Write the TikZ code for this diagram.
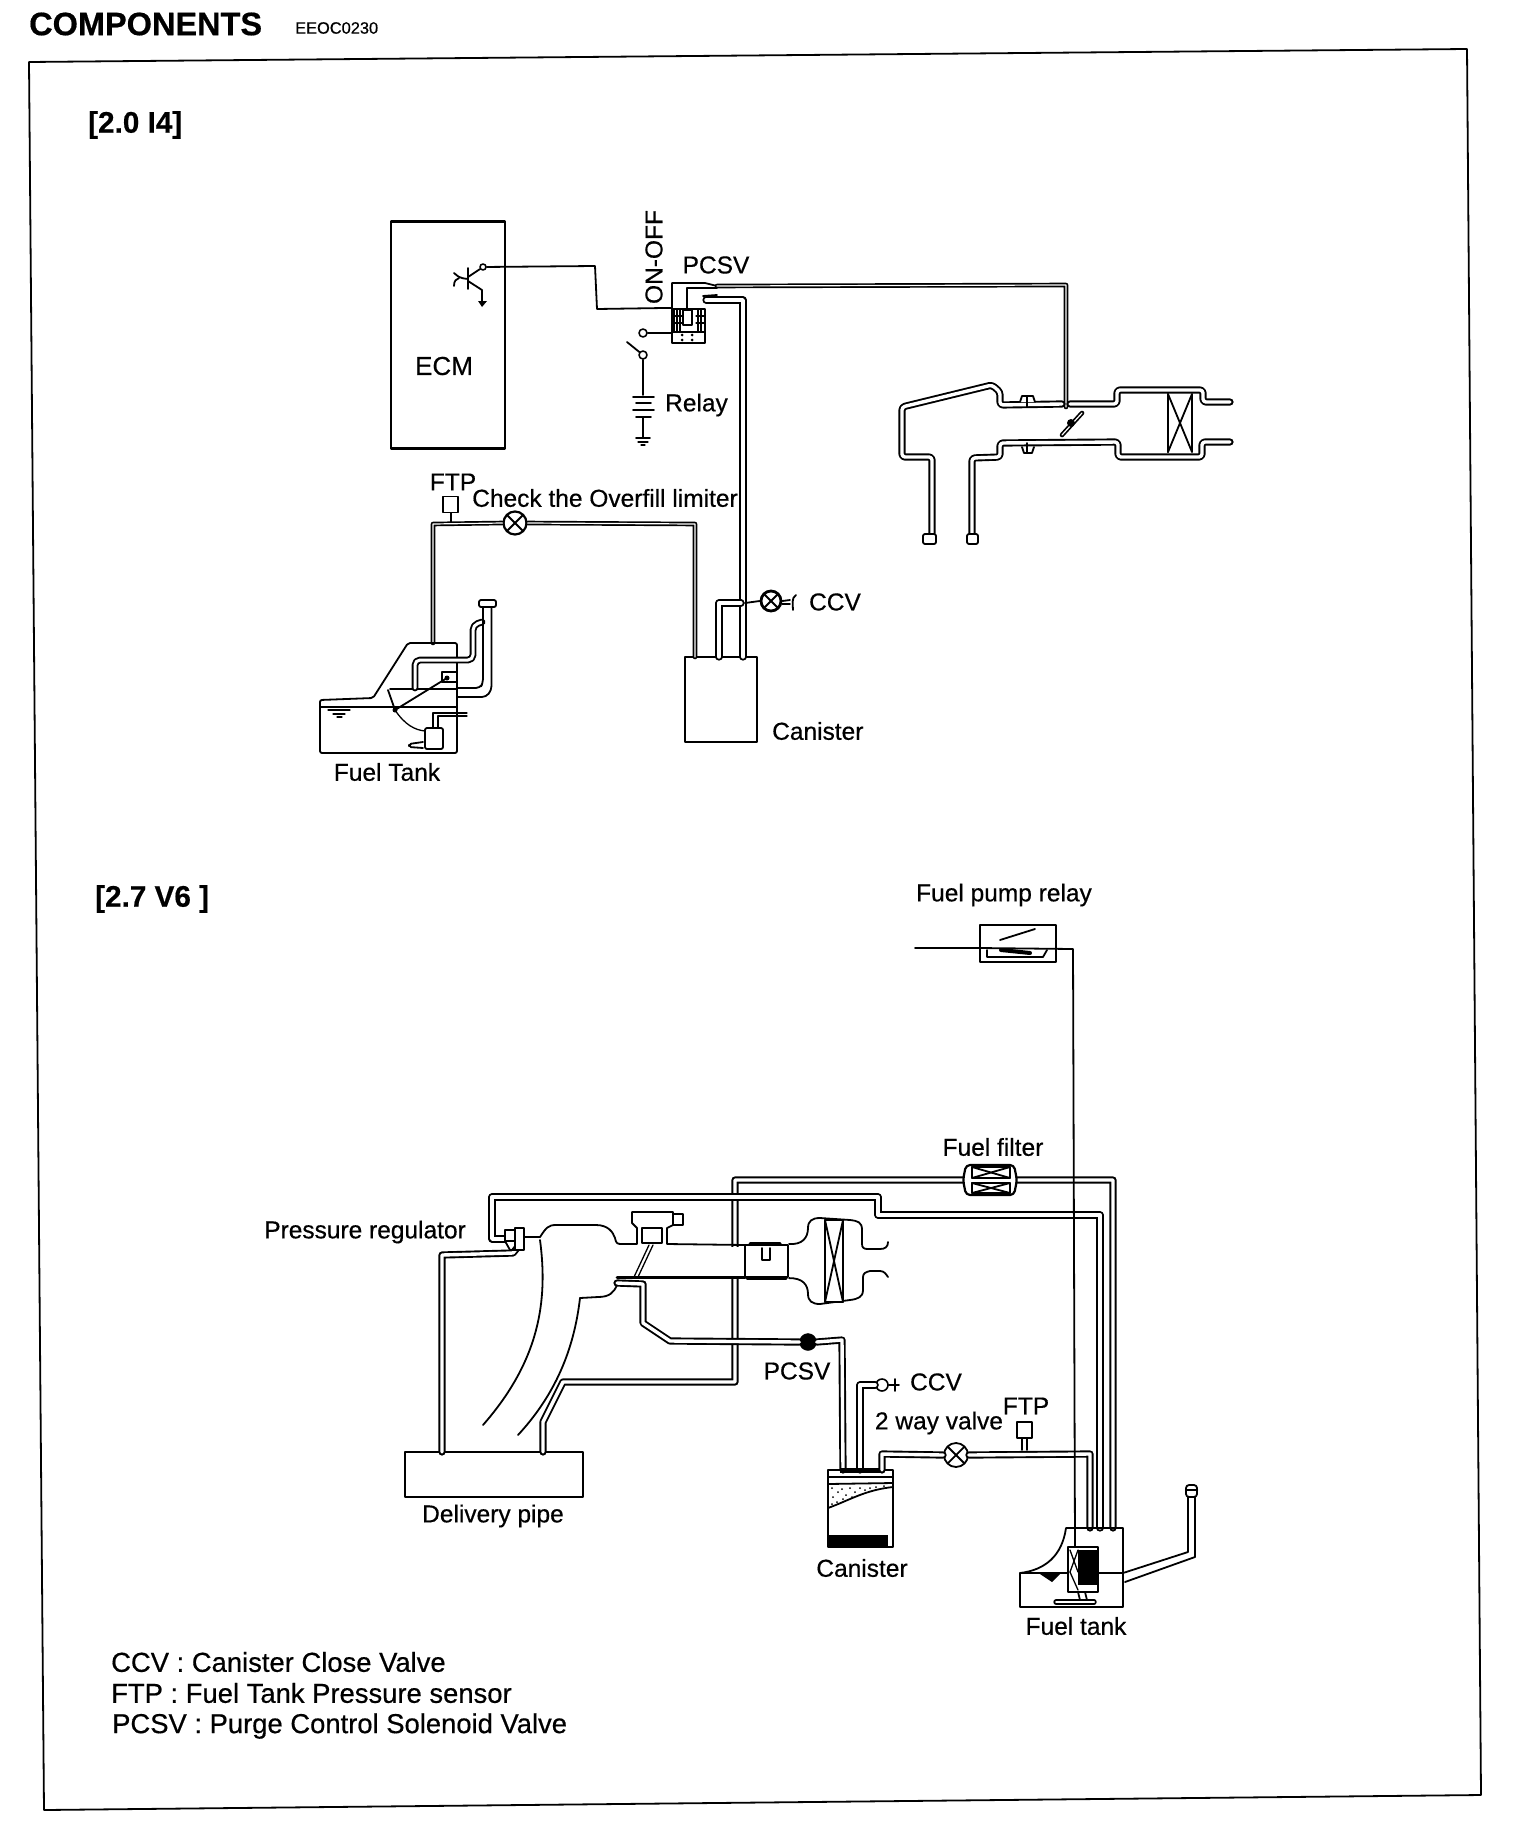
\documentclass[tikz,border=0pt]{standalone}
\usepackage{fontspec}
\setmainfont[RawFeature={embolden=0.5}]{Liberation Sans}
\usetikzlibrary{arrows.meta,calc,positioning}

\begin{document}
\begin{tikzpicture}[
  x=1pt, y=-1pt,
  line cap=round,
  line join=round,
  lab/.style={inner sep=0pt, font=\fontsize{24.5}{26}\selectfont},
  legendlab/.style={inner sep=0pt, anchor=west, font=\fontsize{27.4}{29}\selectfont},
  headlab/.style={inner sep=0pt, font=\bfseries\fontsize{29.7}{31}\selectfont},
  wire/.style={draw=black, line width=1.8pt},
  hairwire/.style={draw=black, line width=1.3pt},
  pipe/.style={draw=black, line width=1.9pt, double=white, double distance=3.4pt},
  slimpipe/.style={draw=black, line width=1.7pt, double=white, double distance=1.2pt},
  block/.style={draw=black, line width=2.2pt, fill=white, inner sep=0pt},
  port/.style={circle, draw=black, fill=white, inner sep=0pt, minimum size=8pt, line width=1.6pt},
  valve/.style={circle, draw=black, fill=white, inner sep=0pt, minimum size=23pt, line width=2.2pt,
    path picture={
      \draw[line width=1.8pt] (path picture bounding box.north west) -- (path picture bounding box.south east);
      \draw[line width=1.8pt] (path picture bounding box.north east) -- (path picture bounding box.south west);
    }},
  sensor/.style={draw=black, line width=1.8pt, fill=white, inner sep=0pt, minimum width=15pt, minimum height=16pt}
]
\useasboundingbox (0,0) rectangle (1536,1836);

\def\ftpY{524}
\def\tankTop{643}
\def\tankLow{1528}

% Sheet heading and frame.
\node[inner sep=0pt, font=\bfseries\fontsize{32.5}{34}\selectfont, anchor=west] (titleLab) at (29,24) {COMPONENTS};
\node[inner sep=0pt, font=\fontsize{16.4}{18}\selectfont, anchor=west] (codeLab) at (295,28) {EEOC0230};
\draw[wire] (29,62) -- (1467,49) -- (1481,1795) -- (44,1810) -- cycle;
\node[headlab, anchor=west] (engineA) at (88,125) {[2.0 I4]};
\node[headlab, anchor=west] (engineB) at (95,899) {[2.7 V6 ]};

% ECM and its driver transistor.
\node[block, minimum width=114pt, minimum height=227pt] (ecmBox) at (448,335) {};
\node[lab, font=\fontsize{26}{28}\selectfont] (ecmLab) at (444,366) {ECM};
\node[port, minimum size=6pt] (ecmPort) at (483,267) {};
\draw[wire] (468,268) -- (468,289);
\draw[wire] (468,277) -- (ecmPort);
\draw[wire] (468,281) -- (482,290) -- (482,303);
\draw[wire] (454,273) .. controls (458,276) and (458,278) .. (468,279);
\draw[wire] (454,286) .. controls (454,281) and (456,279) .. (459,278);
\fill (478,301) -- (487,301) -- (482,307) -- cycle;

% PCSV of the 2.0 engine.
\node[block, minimum width=33pt, minimum height=34pt] (pcsvA) at (688.5,326) {};
\foreach \hx in {674,677,680,698,701}{
  \draw[line width=2pt] (\hx,310) -- (\hx,332);
}
\draw[line width=1.2pt] (672,316) -- (682,316) (672,323) -- (682,323) (696,316) -- (704,316) (696,323) -- (704,323);
\draw[wire, fill=white] (683,310) rectangle (692,325);
\draw[hairwire] (672,332) -- (704,332);
\foreach \px/\py in {682/335,692/335,682/340,692/340}{
  \fill (\px,\py) circle (1.5pt);
}
\draw[wire] (672,310) -- (672,283) -- (705,283) -- (717,286);
\draw[wire] (687,310) -- (687,288) -- (717,288);
\draw[wire] (703,296) -- (717,295);
\node[lab] (pcsvLabA) at (716,265) {PCSV};
\node[lab, rotate=90] (onOffLab) at (654,257) {ON-OFF};
\draw[wire] (ecmPort) -- (595,266) -- (597,309) -- (pcsvA.north west);

% Relay branch with battery and ground.
\node[port] (relayIn) at (643,333) {};
\node[port] (relayOut) at (643,355) {};
\draw[wire] (relayIn) -- (672,333);
\draw[wire] (627,342) -- (relayOut);
\draw[wire] (relayOut) -- (643,395);
\draw[wire] (633,397) -- (654,397);
\draw[wire] (636,403) -- (651,403);
\draw[wire] (633,410) -- (654,410);
\draw[wire] (636,417) -- (651,417);
\draw[wire] (643,418) -- (643,438);
\draw[wire] (636,438) -- (650,438);
\draw[hairwire] (638,442) -- (648,442);
\draw[hairwire] (641,445) -- (645,445);
\node[lab, anchor=west] (relayLab) at (665,405) {Relay};

% Vapour line to the throttle body.
\draw[slimpipe] (717,286) -- (1066,285) -- (1066,407);

% Throttle body, double wall.
\draw[pipe, rounded corners=3pt] (932,533) -- (932,457) -- (902,457) -- (902,407) -- (992,385) -- (1000,392) -- (1000,405) -- (1062,404);
\draw[pipe, rounded corners=3pt] (1070,404) -- (1117,404) -- (1117,390) -- (1203,390) -- (1203,402) -- (1230,402);
\draw[pipe, rounded corners=3pt] (1230,442) -- (1202,442) -- (1202,457) -- (1118,457) -- (1118,442) -- (1000,443) -- (1000,457) -- (972,458) -- (972,533);
\draw[wire, rounded corners=2pt, fill=white] (923,534) rectangle (936,544);
\draw[wire, rounded corners=2pt, fill=white] (967,534) rectangle (978,544);
\draw[wire, fill=white] (1020,402) -- (1022,396) -- (1033,396) -- (1035,402);
\draw[wire] (1027,396) -- (1027,407);
\draw[wire] (1022,447) -- (1024,453) -- (1032,453) -- (1034,447);
\draw[wire] (1027,443) -- (1027,453);
\draw[draw=black, line width=2.4pt] (1168,394) -- (1168,452);
\draw[hairwire] (1192,394) -- (1192,452);
\draw[wire] (1168,394) -- (1192,452);
\draw[wire] (1192,394) -- (1168,452);
\draw[slimpipe] (1062,435) -- (1082,413);
\fill (1071,423) circle (4pt);

% Overfill limiter line and FTP.
\node[valve] (overfillValve) at (515,523) {};
\node[sensor] (ftpA) at (450.5,504.5) {};
\node[lab] (ftpLabA) at (453,482) {FTP};
\node[lab] (overfillLab) at (605,498) {Check the Overfill limiter};
\node[block, minimum width=72pt, minimum height=85pt] (canisterA) at (721,699.5) {};
\coordinate (tankPortA) at (433,\tankTop);
\draw[slimpipe] (tankPortA) -- (433,\ftpY) -- (overfillValve.west);
\draw[slimpipe] (overfillValve.east) -- (695,\ftpY) -- (695,657);
\draw[wire] (451,513) -- (451,522);
\node[lab, anchor=west] (canisterLabA) at (772,731) {Canister};

% Purge line and CCV.
\draw[pipe] (706,300) -- (743,300) -- (743,657);
\node[valve, minimum size=20pt, line width=2.8pt] (ccvA) at (771,601) {};
\draw[pipe] (719,657) -- (719,603) -- (741,603);
\draw[wire] (745,603) -- (ccvA.west);
\draw[wire] (ccvA.east) -- (790,600);
\draw[wire] (ccvA.east) ++(0,3) -- (790,604);
\draw[wire] (796,595) .. controls (791,598) and (793,605) .. (793,610);
\node[lab] (ccvLabA) at (835,602) {CCV};

% Fuel tank of the 2.0 engine.
\draw[wire, rounded corners=2pt] (320,700) -- (320,753) -- (457,753) -- (457,\tankTop) -- (408,\tankTop) -- (373,698) -- cycle;
\draw[wire] (390,689) -- (457,689);
\draw[wire] (320,707) -- (457,707);
\draw[hairwire] (328,710) -- (350,710);
\draw[hairwire] (333,714) -- (345,714);
\draw[hairwire] (337,717) -- (342,717);
\draw[wire] (388,690) -- (395,710) -- (447,678);
\draw[wire] (442,682) -- (442,672) -- (457,672);
\draw[wire] (442,682) -- (457,682);
\fill (447,678) circle (2.5pt);
\fill (395,710) circle (2.5pt);
\draw[hairwire] (395,710) .. controls (405,725) and (415,730) .. (425,731);
\draw[wire, rounded corners=2pt, fill=white] (425,728) rectangle (443,749);
\draw[wire, rounded corners=2pt] (423,742) -- (409,744) -- (409,747) -- (423,748);
\draw[hairwire] (433,728) -- (433,713) -- (467,713);
\draw[hairwire] (438,728) -- (438,716) -- (467,716);
\draw[pipe, rounded corners=5pt, double distance=3pt] (415,688) -- (415,660) -- (473,660) -- (473,625) -- (482,622);
\draw[wire, rounded corners=4pt] (457,697) -- (486,697) -- (491.5,690) -- (491.5,607);
\draw[wire, rounded corners=4pt] (457,688) -- (480,688) -- (483,683) -- (483,607);
\draw[wire, rounded corners=2pt, fill=white] (479,600) rectangle (496,607);
\node[lab] (tankLabA) at (387,772) {Fuel Tank};

% Fuel lines of the 2.7 engine.
\node[block, minimum width=178pt, minimum height=45pt] (deliveryPipe) at (494,1474.5) {};
\node[lab] (deliveryLab) at (493,1516) {Delivery pipe};
\node[lab, anchor=east] (regulatorLab) at (466,1232) {Pressure regulator};
\coordinate (tankPortC) at (1100,\tankLow);
\coordinate (tankPortD) at (1113,\tankLow);
\draw[pipe] (tankPortD) -- (1113,1180) -- (735,1180) -- (735,1382) -- (563,1382) -- (543,1422) -- (543,1452);
\draw[pipe] (tankPortC) -- (1100,1215) -- (878,1215) -- (878,1197) -- (492,1197) -- (492,1239) -- (505,1239);
\draw[pipe] (442,1452) -- (442,1255) -- (513,1253) -- (517,1248);

% Pressure regulator.
\draw[wire, fill=white] (505,1230) rectangle (515,1241);
\draw[wire, fill=white] (515,1228) rectangle (524,1250);
\draw[wire] (505,1241) -- (510,1250) -- (515,1250);

% Intake manifold of the 2.7 engine.
\fill[white] (620,1247) rectangle (744,1276);
\draw[wire] (525,1237) -- (540,1237) .. controls (546,1228) and (548,1225) .. (556,1225) -- (596,1225) .. controls (608,1225) and (613,1232) .. (615,1238) .. controls (616,1243) and (617,1244) .. (621,1244) -- (637,1244) -- (637,1228) -- (632,1223) -- (632,1212) -- (673,1212) -- (673,1225) -- (667,1228) -- (667,1244) -- (745,1245);
\draw[wire, fill=white] (642,1228) rectangle (662,1243);
\draw[wire] (673,1214) rectangle (683,1225);
\draw[hairwire] (649,1245) -- (634,1277);
\draw[hairwire] (653,1245) -- (638,1277);
\draw[line width=3pt] (617,1277) -- (745,1277);
\draw[wire] (617,1285) .. controls (614,1292) and (610,1297) .. (598,1297) -- (580,1298);
\draw[wire] (580,1298) .. controls (574,1350) and (555,1395) .. (518,1435);
\draw[wire] (540,1240) .. controls (548,1300) and (540,1360) .. (483,1425);
\node[block, minimum width=43pt, minimum height=32pt] (throttleB) at (766.5,1261) {};
\draw[line width=3pt] (750,1243) -- (780,1243);
\draw[line width=3pt] (747,1278) -- (786,1278);
\draw[wire] (762,1248) -- (762,1260) -- (770,1260) -- (770,1248);

% Air cleaner.
\draw[wire] (throttleB.north east) .. controls (802,1245) and (808,1238) .. (808,1228) .. controls (808,1221) and (812,1218) .. (820,1218) -- (850,1220) .. controls (858,1221) and (862,1222) .. (862,1230) -- (862,1244) .. controls (862,1248) and (864,1249) .. (868,1249) -- (880,1249) .. controls (885,1249) and (888,1247) .. (888,1242);
\draw[wire] (throttleB.south east) .. controls (802,1278) and (808,1284) .. (808,1294) .. controls (808,1301) and (812,1304) .. (820,1304) -- (850,1300) .. controls (858,1299) and (863,1297) .. (863,1290) -- (863,1277) .. controls (863,1273) and (866,1272) .. (870,1271) -- (880,1271) .. controls (884,1271) and (886,1274) .. (888,1277);
\draw[draw=black, line width=2.4pt, fill=white] (825,1220) rectangle (843,1302);
\draw[wire] (825,1220) -- (843,1302);
\draw[wire] (843,1220) -- (825,1302);

% PCSV of the 2.7 engine and its lines.
\node[circle, draw=black, fill=black, inner sep=0pt, minimum width=11pt, minimum height=17pt] (pcsvB) at (808,1342) {};
\node[block, minimum width=65pt, minimum height=77pt, line width=1.8pt] (canisterB) at (860.5,1508.5) {};
\draw[pipe] (617,1283) -- (643,1284) -- (643,1323) -- (670,1341) -- (pcsvB.west);
\draw[pipe] (pcsvB.east) -- (842,1340) -- (843,1470);
\node[lab] (pcsvLabB) at (797,1371) {PCSV};

% CCV and two way valve.
\node[port, minimum size=12pt] (ccvB) at (882,1385) {};
\draw[pipe] (860,1470) -- (860,1385) -- (ccvB.west);
\draw[wire] (ccvB.east) -- (899,1385);
\draw[wire] (895,1379) -- (895,1391);
\node[lab] (ccvLabB) at (936,1382) {CCV};
\node[valve, line width=1.8pt, minimum size=24pt] (twoWayValve) at (956,1455) {};
\node[sensor] (ftpB) at (1024.5,1430) {};
\node[lab] (ftpLabB) at (1026,1406) {FTP};
\node[lab] (twoWayLab) at (939,1423) {2 way valve};
\draw[pipe] (882,1470) -- (882,1454) -- (twoWayValve.west);
\draw[pipe] (twoWayValve.east) -- (1090,1454) -- (1090,\tankLow);
\draw[wire] (1022,1438) -- (1022,1450);
\draw[wire] (1027,1438) -- (1027,1450);

% Canister of the 2.7 engine.
\draw[wire] (828,1477) -- (893,1477);
\fill (840,1468) rectangle (880,1473);
\draw[wire] (828,1484) -- (893,1483);
\draw[wire] (828,1508) .. controls (850,1500) and (865,1490) .. (893,1487);
\foreach \px/\py in {832/1488,838/1492,833/1497,842/1489,846/1495,850/1488,837/1502,855/1492,860/1488,843/1499,865/1490,870/1488,876/1487,852/1497,832/1504,884/1486}{
  \fill (\px,\py) circle (1pt);
}
\fill (829,1535) rectangle (888,1547);
\node[lab] (canisterLabB) at (862,1568) {Canister};

% Fuel tank of the 2.7 engine.
\draw[wire] (1020,1573) .. controls (1045,1570) and (1062,1556) .. (1066,1528) -- (1123,\tankLow) -- (1123,1607) -- (1020,1607) -- cycle;
\draw[wire] (1020,1573) -- (1123,1573);
\fill (1040,1574) -- (1060,1574) -- (1052,1582) -- cycle;
\draw[wire, fill=white] (1068,1547) rectangle (1098,1592);
\fill (1078,1550) rectangle (1097,1585);
\draw[hairwire] (1070,1550) -- (1078,1572);
\draw[hairwire] (1078,1550) -- (1070,1572);
\draw[hairwire] (1070,1572) -- (1078,1590);
\draw[wire] (1085,1592) -- (1087,1600);
\draw[wire] (1078,1592) -- (1080,1600);
\draw[slimpipe, double distance=2pt] (1056,1602) -- (1094,1602);
\draw[wire] (1123,1573) -- (1188,1552) -- (1188,1497);
\draw[wire] (1125,1582) -- (1195,1557) -- (1195,1497);
\draw[wire, rounded corners=3pt, fill=white] (1186,1485) rectangle (1197,1497);
\draw[line width=2.5pt] (1186,1490) -- (1197,1490);
\node[lab] (tankLabB) at (1076,1626) {Fuel tank};

% Fuel pump relay.
\node[block, minimum width=76pt, minimum height=37pt] (pumpRelay) at (1018,943.5) {};
\node[lab] (pumpRelayLab) at (1004,895) {Fuel pump relay};
\node[lab] (fuelFilterLab) at (993,1147) {Fuel filter};
\coordinate (wireEnd) at (915,948);
\coordinate (pumpEnd) at (1075,1547);
\draw[wire] (wireEnd) -- (pumpRelay.west |- wireEnd);
\draw[wire] (pumpRelay.west |- wireEnd) -- (1073,949) -- (pumpEnd);
\draw[wire] (1000,940) -- (1035,929);
\draw[line width=4pt] (1001,950) -- (1030,953);
\draw[wire] (987,950) -- (987,957) -- (1043,957) -- (1047,950);

% Fuel filter.
\draw[block, rounded corners=4pt] (966,1165) -- (1014,1165) -- (1017,1180) -- (1014,1195) -- (966,1195) -- (963,1180) -- cycle;
\draw[line width=1.8pt, fill=white] (972,1167) rectangle (1010,1178);
\draw[line width=1.8pt, fill=white] (972,1183) rectangle (1010,1193);
\draw[wire] (972,1167) -- (1010,1178);
\draw[wire] (1010,1167) -- (972,1178);
\draw[wire] (972,1183) -- (1010,1193);
\draw[wire] (1010,1183) -- (972,1193);

% Abbreviations.
\node[legendlab] (legendCcv) at (111,1662) {CCV : Canister Close Valve};
\node[legendlab] (legendFtp) at (111,1693) {FTP : Fuel Tank Pressure sensor};
\node[legendlab] (legendPcsv) at (112,1726) {PCSV : Purge Control Solenoid Valve};

\end{tikzpicture}
\end{document}
